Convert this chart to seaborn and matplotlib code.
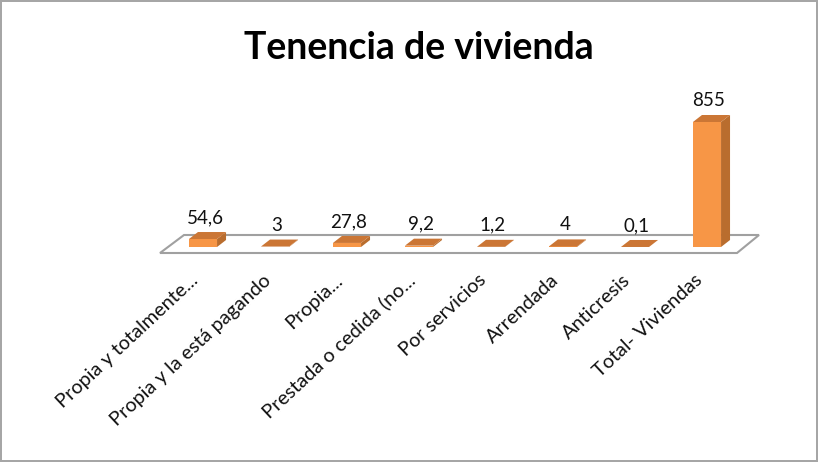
import numpy as np
import pandas as pd
import matplotlib
matplotlib.use("Agg")
import matplotlib.pyplot as plt
from matplotlib.patches import Polygon
from matplotlib.transforms import IdentityTransform, ScaledTranslation
import seaborn as sns

# datos
categorias = ["Propia y totalmente...", "Propia y la está pagando", "Propia...",
              "Prestada o cedida (no...", "Por servicios", "Arrendada",
              "Anticresis", "Total- Viviendas"]
valores = [54.6, 3, 27.8, 9.2, 1.2, 4, 0.1, 855]
etiquetas = ["54,6", "3", "27,8", "9,2", "1,2", "4", "0,1", "855"]

df = pd.DataFrame({"tenencia": categorias, "valor": valores})

sns.set_style("white")
plt.rcParams["font.family"] = ["Lato", "DejaVu Sans"]

W, H, DPI = 818, 462, 100
fig = plt.figure(figsize=(W / DPI, H / DPI), dpi=DPI)
fig.patch.set_edgecolor("#a6a6a6")
fig.patch.set_linewidth(1.5)

ax = fig.add_axes([167 / W, 215 / H, 576 / W, 146.2 / H])
ax.patch.set_visible(False)
sns.barplot(data=df, x="tenencia", y="valor", color="#F79646", width=0.39,
            saturation=1, linewidth=0, ax=ax, zorder=3)
ax.set_xlim(-0.5, 7.5)
ax.set_ylim(0, 1000)
sns.despine(ax=ax, left=True, bottom=True)
ax.set_yticks([])
ax.set_xlabel("")
ax.set_ylabel("")
ax.tick_params(axis="x", length=0, pad=22)
ax.set_xticks(range(len(categorias)))
ax.set_xticklabels(categorias, rotation=43, ha="right", va="center",
                   rotation_mode="anchor", fontsize=14.3, color="#111111")
# mover un poco a la izquierda las etiquetas
desplaza = ScaledTranslation(-7 / DPI, 0, fig.dpi_scale_trans)
for t in ax.get_xticklabels():
    t.set_transform(t.get_transform() + desplaza)
for p in ax.patches:
    p.set_clip_on(False)

fig.canvas.draw()
# piso (en pixeles)
x0, y0 = ax.transData.transform((-0.5, 0))
x1, _ = ax.transData.transform((7.5, 0))
piso = Polygon([(x0 - 7, y0 - 6), (x1 - 6, y0 - 6), (x1 + 16, y0 + 12), (x0 + 17, y0 + 12)],
               closed=True, facecolor="white", edgecolor="#a0a0a0", lw=1.5,
               transform=IdentityTransform(), zorder=1, clip_on=False)
ax.add_artist(piso)

dx, dy = 9, 7
for p, lab in zip(ax.patches, etiquetas):
    bx0, by0 = ax.transData.transform((p.get_x(), 0))
    bx1, by1 = ax.transData.transform((p.get_x() + p.get_width(), p.get_height()))
    lado = Polygon([(bx1, by0), (bx1 + dx, by0 + dy), (bx1 + dx, by1 + dy), (bx1, by1)],
                   facecolor="#B96D2E", edgecolor="none", transform=IdentityTransform(),
                   zorder=4, clip_on=False)
    tapa = Polygon([(bx0, by1), (bx1, by1), (bx1 + dx, by1 + dy), (bx0 + dx, by1 + dy)],
                   facecolor="#CB7635", edgecolor="none", transform=IdentityTransform(),
                   zorder=4, clip_on=False)
    ax.add_artist(lado)
    ax.add_artist(tapa)
    fig.text((bx0 + bx1) / 2 / W + 2 / W, (by1 + dy + 6) / H, lab, ha="center", va="bottom",
             fontsize=13.5, color="#111111")

fig.text(419 / W, 414 / H, "Tenencia de vivienda", ha="center", va="center",
         fontsize=27, fontweight="bold", color="black")

fig.savefig("out.png", dpi=DPI)
